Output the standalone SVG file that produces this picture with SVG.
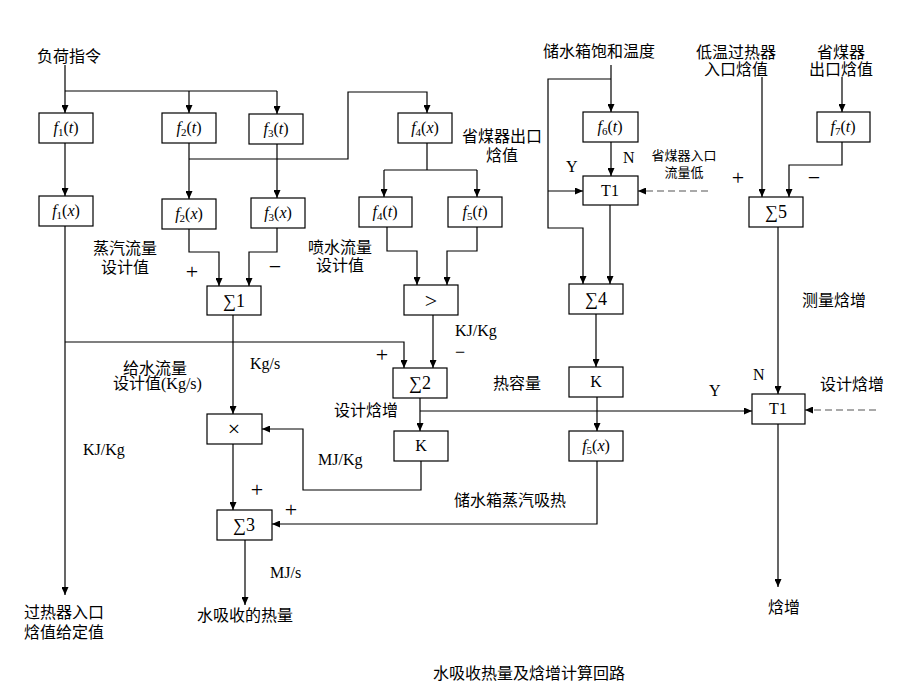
<svg xmlns="http://www.w3.org/2000/svg" width="904" height="694" viewBox="0 0 904 694">
<defs>
<marker id="ah" markerUnits="userSpaceOnUse" markerWidth="8" markerHeight="7" refX="8" refY="3.5" orient="auto"><path d="M0,0 L8,3.5 L0,7 z" fill="#000"/></marker>
<style>
.bx{fill:#fff;stroke:#000;stroke-width:1.2}
.ln{fill:none;stroke:#000;stroke-width:1.2}
.da{fill:none;stroke:#555;stroke-width:1.2;stroke-dasharray:7,4}
.m{font-family:"Liberation Serif",serif;font-size:16px;text-anchor:middle;fill:#000}
.sig{font-size:18px}
.op{font-size:22px}
.i{font-style:italic}
.s{font-size:11px}
.cn{font-family:"Liberation Sans","Noto Sans CJK SC",sans-serif;font-size:16px;fill:#000}
.cs{font-family:"Liberation Sans","Noto Sans CJK SC",sans-serif;font-size:13px;fill:#000;text-anchor:middle}
.c{text-anchor:middle}
.l{font-family:"Liberation Serif",serif;font-size:16px;fill:#000}
.sg{font-family:"Liberation Serif",serif;font-size:22px;fill:#000;text-anchor:middle}
</style>
</defs>
<rect width="904" height="694" fill="#fff"/>
<g id="connectors">
<path class="ln" d="M65,65 V113" marker-end="url(#ah)"/>
<path class="ln" d="M65,91 H277"/>
<path class="ln" d="M189,91 V113" marker-end="url(#ah)"/>
<path class="ln" d="M277,91 V114" marker-end="url(#ah)"/>
<path class="ln" d="M65,143 V196" marker-end="url(#ah)"/>
<path class="ln" d="M189,143 V199" marker-end="url(#ah)"/>
<path class="ln" d="M189,159 H348 V92 H427 V113" marker-end="url(#ah)"/>
<path class="ln" d="M277,144 V198" marker-end="url(#ah)"/>
<path class="ln" d="M427,143 V170 M384,170 H477"/>
<path class="ln" d="M384,170 V197" marker-end="url(#ah)"/>
<path class="ln" d="M477,170 V197" marker-end="url(#ah)"/>
<path class="ln" d="M65,226 V595" marker-end="url(#ah)"/>
<path class="ln" d="M65,342 H404 V368" marker-end="url(#ah)"/>
<path class="ln" d="M189,229 V252 H219 V286" marker-end="url(#ah)"/>
<path class="ln" d="M277,228 V252 H249 V286" marker-end="url(#ah)"/>
<path class="ln" d="M387,227 V251 H417 V285" marker-end="url(#ah)"/>
<path class="ln" d="M477,227 V251 H447 V285" marker-end="url(#ah)"/>
<path class="ln" d="M433,315 V368" marker-end="url(#ah)"/>
<path class="ln" d="M233,315 V414" marker-end="url(#ah)"/>
<path class="ln" d="M420,398 V431" marker-end="url(#ah)"/>
<path class="ln" d="M420,411 H752" marker-end="url(#ah)"/>
<path class="ln" d="M421,461 V490 H303 V429 H262" marker-end="url(#ah)"/>
<path class="ln" d="M233,444 V510" marker-end="url(#ah)"/>
<path class="ln" d="M245,540 V605" marker-end="url(#ah)"/>
<path class="ln" d="M597,461 V524 H272" marker-end="url(#ah)"/>
<path class="ln" d="M611,65 V112" marker-end="url(#ah)"/>
<path class="ln" d="M611,79 H548 V228 H583 V284" marker-end="url(#ah)"/>
<path class="ln" d="M548,191 H583" marker-end="url(#ah)"/>
<path class="ln" d="M611,142 V176" marker-end="url(#ah)"/>
<path class="ln" d="M610,205 V284" marker-end="url(#ah)"/>
<path class="da" d="M708,191 H638" marker-end="url(#ah)"/>
<path class="ln" d="M596,314 V367" marker-end="url(#ah)"/>
<path class="ln" d="M597,397 V431" marker-end="url(#ah)"/>
<path class="ln" d="M762,77 V197" marker-end="url(#ah)"/>
<path class="ln" d="M842,77 V112" marker-end="url(#ah)"/>
<path class="ln" d="M842,142 V165 H789 V197" marker-end="url(#ah)"/>
<path class="ln" d="M778,227 V394" marker-end="url(#ah)"/>
<path class="da" d="M876,410 H805" marker-end="url(#ah)"/>
<path class="ln" d="M778,424 V587" marker-end="url(#ah)"/>
</g>
<g id="f1t"><rect class="bx" x="39" y="113" width="54" height="30"/><text class="m" x="66" y="133"><tspan class="i">f</tspan><tspan class="s" dy="3">1</tspan><tspan dy="-3">(</tspan><tspan class="i">t</tspan>)</text></g>
<g id="f2t"><rect class="bx" x="162" y="113" width="54" height="30"/><text class="m" x="189" y="133"><tspan class="i">f</tspan><tspan class="s" dy="3">2</tspan><tspan dy="-3">(</tspan><tspan class="i">t</tspan>)</text></g>
<g id="f3t"><rect class="bx" x="249" y="114" width="54" height="30"/><text class="m" x="276" y="134"><tspan class="i">f</tspan><tspan class="s" dy="3">3</tspan><tspan dy="-3">(</tspan><tspan class="i">t</tspan>)</text></g>
<g id="f4x"><rect class="bx" x="398" y="113" width="54" height="30"/><text class="m" x="425" y="133"><tspan class="i">f</tspan><tspan class="s" dy="3">4</tspan><tspan dy="-3">(</tspan><tspan class="i">x</tspan>)</text></g>
<g id="f1x"><rect class="bx" x="39" y="196" width="54" height="30"/><text class="m" x="66" y="216"><tspan class="i">f</tspan><tspan class="s" dy="3">1</tspan><tspan dy="-3">(</tspan><tspan class="i">x</tspan>)</text></g>
<g id="f2x"><rect class="bx" x="162" y="199" width="54" height="30"/><text class="m" x="189" y="219"><tspan class="i">f</tspan><tspan class="s" dy="3">2</tspan><tspan dy="-3">(</tspan><tspan class="i">x</tspan>)</text></g>
<g id="f3x"><rect class="bx" x="251" y="198" width="54" height="30"/><text class="m" x="278" y="218"><tspan class="i">f</tspan><tspan class="s" dy="3">3</tspan><tspan dy="-3">(</tspan><tspan class="i">x</tspan>)</text></g>
<g id="f4t"><rect class="bx" x="359" y="197" width="53" height="30"/><text class="m" x="385" y="217"><tspan class="i">f</tspan><tspan class="s" dy="3">4</tspan><tspan dy="-3">(</tspan><tspan class="i">t</tspan>)</text></g>
<g id="f5t"><rect class="bx" x="448" y="197" width="54" height="30"/><text class="m" x="475" y="217"><tspan class="i">f</tspan><tspan class="s" dy="3">5</tspan><tspan dy="-3">(</tspan><tspan class="i">t</tspan>)</text></g>
<g id="f6t"><rect class="bx" x="583" y="112" width="55" height="30"/><text class="m" x="610" y="132"><tspan class="i">f</tspan><tspan class="s" dy="3">6</tspan><tspan dy="-3">(</tspan><tspan class="i">t</tspan>)</text></g>
<g id="T1a"><rect class="bx" x="583" y="176" width="55" height="29"/><text class="m" x="610" y="196">T1</text></g>
<g id="f7t"><rect class="bx" x="817" y="112" width="53" height="30"/><text class="m" x="843" y="132"><tspan class="i">f</tspan><tspan class="s" dy="3">7</tspan><tspan dy="-3">(</tspan><tspan class="i">t</tspan>)</text></g>
<g id="S5"><rect class="bx" x="749" y="197" width="54" height="30"/><text class="m sig" x="776" y="218">∑5</text></g>
<g id="S1"><rect class="bx" x="207" y="286" width="54" height="29"/><text class="m sig" x="234" y="307">∑1</text></g>
<g id="GT"><rect class="bx" x="404" y="285" width="54" height="30"/><text class="m op" x="431" y="308">&gt;</text></g>
<g id="S4"><rect class="bx" x="569" y="284" width="54" height="30"/><text class="m sig" x="596" y="305">∑4</text></g>
<g id="S2"><rect class="bx" x="393" y="368" width="54" height="30"/><text class="m sig" x="420" y="389">∑2</text></g>
<g id="Kr"><rect class="bx" x="569" y="367" width="54" height="30"/><text class="m" x="596" y="387">K</text></g>
<g id="T1b"><rect class="bx" x="752" y="394" width="53" height="30"/><text class="m" x="778" y="414">T1</text></g>
<g id="mul"><rect class="bx" x="207" y="414" width="55" height="30"/><text class="m op" x="234" y="436">×</text></g>
<g id="Km"><rect class="bx" x="394" y="431" width="54" height="30"/><text class="m" x="421" y="451">K</text></g>
<g id="f5x"><rect class="bx" x="569" y="431" width="54" height="30"/><text class="m" x="596" y="451"><tspan class="i">f</tspan><tspan class="s" dy="3">5</tspan><tspan dy="-3">(</tspan><tspan class="i">x</tspan>)</text></g>
<g id="S3"><rect class="bx" x="217" y="510" width="55" height="30"/><text class="m sig" x="244" y="531">∑3</text></g>
<g id="labels">
<text class="cn" x="37" y="62">负荷指令</text>
<text class="cn c" x="502" y="142">省煤器出口</text>
<text class="cn c" x="502" y="161">焓值</text>
<text class="cn" x="543" y="57">储水箱饱和温度</text>
<text class="cn c" x="736" y="58">低温过热器</text>
<text class="cn c" x="736" y="75">入口焓值</text>
<text class="cn c" x="841" y="58">省煤器</text>
<text class="cn c" x="841" y="75">出口焓值</text>
<text class="cs" x="684" y="160">省煤器入口</text>
<text class="cs" x="684" y="177">流量低</text>
<text class="cn c" x="125" y="254">蒸汽流量</text>
<text class="cn c" x="125" y="273">设计值</text>
<text class="cn c" x="340" y="253">喷水流量</text>
<text class="cn c" x="340" y="271">设计值</text>
<text class="cn c" x="155" y="374">给水流量</text>
<text class="cn" x="113" y="389">设计值<tspan font-family="Liberation Serif,serif">(Kg/s)</tspan></text>
<text class="cn c" x="366" y="416">设计焓增</text>
<text class="cn" x="493" y="389">热容量</text>
<text class="cn" x="802" y="306">测量焓增</text>
<text class="cn" x="820" y="390">设计焓增</text>
<text class="cn" x="454" y="506">储水箱蒸汽吸热</text>
<text class="cn" x="24" y="618">过热器入口</text>
<text class="cn" x="24" y="638">焓值给定值</text>
<text class="cn" x="197" y="621">水吸收的热量</text>
<text class="cn" x="768" y="613">焓增</text>
<text class="cn" x="433" y="679">水吸收热量及焓增计算回路</text>
<text class="l" x="250" y="369">Kg/s</text>
<text class="l" x="455" y="336">KJ/Kg</text>
<text class="l" x="83" y="455">KJ/Kg</text>
<text class="l" x="318" y="465">MJ/Kg</text>
<text class="l" x="270" y="578">MJ/s</text>
<text class="l" x="566" y="172">Y</text>
<text class="l" x="623" y="163">N</text>
<text class="l" x="753" y="380">N</text>
<text class="l" x="709" y="396">Y</text>
<text class="sg" x="192" y="279">+</text>
<text class="sg" x="275" y="274">−</text>
<text class="sg" x="382" y="362">+</text>
<text class="sg" x="460" y="358" style="font-size:18px">−</text>
<text class="sg" x="257" y="497">+</text>
<text class="sg" x="291" y="517">+</text>
<text class="sg" x="738" y="185">+</text>
<text class="sg" x="814" y="185">−</text>
</g>
</svg>
